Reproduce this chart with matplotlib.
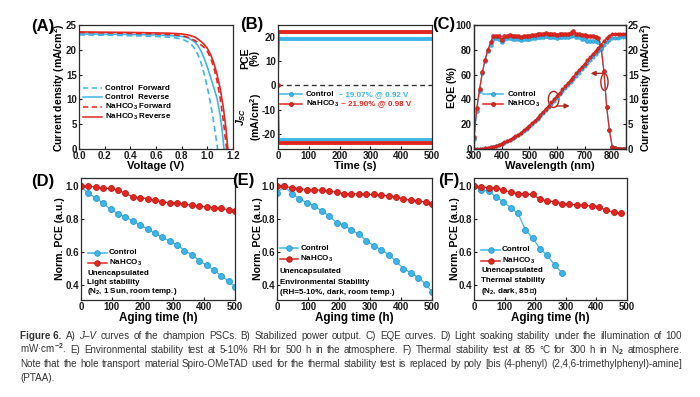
import numpy as np
import matplotlib
matplotlib.use('Agg')
import matplotlib.pyplot as plt
from matplotlib.lines import Line2D
from matplotlib.patches import Ellipse

plt.rcParams['font.family'] = ['Liberation Sans', 'DejaVu Sans']
plt.rcParams['font.weight'] = 'bold'
plt.rcParams['axes.unicode_minus'] = False
plt.rcParams['mathtext.fontset'] = 'custom'
plt.rcParams['mathtext.rm'] = 'Liberation Sans'
plt.rcParams['mathtext.it'] = 'Liberation Sans:italic'
plt.rcParams['mathtext.bf'] = 'Liberation Sans:bold'
plt.rcParams['mathtext.bfit'] = 'Liberation Sans:italic:bold'
plt.rcParams['mathtext.default'] = 'bf'

BLUE = '#3db5e6'
BLUE_EDGE = '#2a98cf'
RED = '#e2261f'
RED_EDGE = '#b81c16'
DARKRED = '#b3261f'
AX = '#2b2b2b'

# (A) J-V curves
v_ctrl_fwd = [0, 0.2, 0.4, 0.6, 0.7, 0.75, 0.8, 0.85, 0.875, 0.9, 0.925, 0.95, 0.975, 1.0, 1.02, 1.04, 1.06, 1.08]
j_ctrl_fwd = [23.0, 22.95, 22.85, 22.7, 22.55, 22.4, 22.2, 21.6, 21.1, 20.3, 19.1, 17.5, 15.2, 12.5, 9.8, 7.0, 3.6, 0.0]
v_ctrl_rev = [0, 0.2, 0.4, 0.6, 0.7, 0.8, 0.85, 0.9, 0.925, 0.95, 0.975, 1.0, 1.025, 1.05, 1.075, 1.1, 1.115, 1.13]
j_ctrl_rev = [23.2, 23.15, 23.1, 23.0, 22.9, 22.7, 22.4, 21.6, 20.9, 19.8, 18.3, 16.5, 14.5, 12.4, 10.3, 6.8, 3.8, 0.0]
v_na_fwd = [0, 0.2, 0.4, 0.6, 0.7, 0.8, 0.85, 0.9, 0.925, 0.95, 0.975, 1.0, 1.025, 1.05, 1.075, 1.1, 1.125, 1.15]
j_na_fwd = [23.5, 23.4, 23.3, 23.2, 23.1, 22.9, 22.5, 21.9, 21.5, 21.0, 20.5, 19.7, 18.4, 16.5, 13.8, 10.2, 5.6, 0.0]
v_na_rev = [0, 0.2, 0.4, 0.6, 0.7, 0.8, 0.85, 0.9, 0.925, 0.95, 0.975, 1.0, 1.025, 1.05, 1.075, 1.1, 1.125, 1.145, 1.16]
j_na_rev = [23.6, 23.55, 23.5, 23.4, 23.35, 23.2, 23.0, 22.6, 22.2, 21.7, 21.1, 20.3, 19.1, 17.4, 15.1, 12.2, 8.3, 4.2, 0.0]

# (B) stabilized output
time_b = [0, 3, 500]
pce_ctrl = [0, 19.07, 19.07]
jsc_ctrl = [0, -22.4, -22.4]
pce_na = [0, 21.90, 21.90]
jsc_na = [0, -23.8, -23.8]

# (C) EQE and integrated current
wl = list(range(300, 860, 10))
eqe_na = [10, 33, 48, 62, 72, 80, 86, 91, 91.5, 91,
          88, 91, 91.5, 92, 91.5, 91, 91.5, 90.5, 91, 91.5,
          91.5, 92, 92, 92.5, 93, 93, 93.5, 93, 92.5, 92.5,
          92, 92.5, 92.5, 93, 93, 93.5, 95, 93, 92.5, 92,
          92, 91.5, 91, 91.5, 90.5, 89.5, 82, 63, 34, 15,
          2, 0.5, 0.3, 0.2, 0.2, 0.2]
eqe_ctrl = [8, 31, 47, 61, 71, 79, 84, 89, 89.5, 89,
            86, 89, 89.5, 89.5, 89, 88.5, 88.5, 88, 88.5, 89,
            89, 89.5, 89.5, 90, 90.5, 90.5, 91, 90.5, 90, 90,
            89.5, 90, 90, 90, 90.5, 91, 92, 90.5, 90, 89,
            88.5, 87.5, 87, 87.5, 87, 86.5, 81, 62, 34, 15,
            2, 0.5, 0.3, 0.2, 0.2, 0.2]
jint_na = [0, 0.01, 0.03, 0.07, 0.13, 0.22, 0.34, 0.5, 0.68, 0.88,
           1.1, 1.35, 1.62, 1.91, 2.22, 2.55, 2.9, 3.3, 3.74, 4.2,
           4.68, 5.2, 5.74, 6.3, 6.9, 7.5, 8.13, 8.76, 9.4, 10.05,
           10.7, 11.35, 12.0, 12.65, 13.3, 13.95, 14.6, 15.25, 15.9, 16.55,
           17.2, 17.85, 18.5, 19.15, 19.8, 20.45, 21.05, 21.7, 22.3, 22.8,
           23.1, 23.2, 23.24, 23.26, 23.27, 23.28]
jint_ctrl = [0, 0.01, 0.03, 0.07, 0.13, 0.21, 0.33, 0.49, 0.66, 0.86,
             1.07, 1.31, 1.57, 1.86, 2.16, 2.48, 2.82, 3.21, 3.63, 4.08,
             4.54, 5.04, 5.57, 6.11, 6.69, 7.27, 7.88, 8.49, 9.11, 9.74,
             10.37, 11.0, 11.63, 12.26, 12.89, 13.52, 14.16, 14.79, 15.42, 16.04,
             16.66, 17.28, 17.9, 18.52, 19.14, 19.76, 20.34, 20.97, 21.55, 22.03,
             22.32, 22.42, 22.46, 22.48, 22.49, 22.5]

# (D)-(F) stability
time_de = [0, 24, 48, 72, 96, 120, 144, 168, 192, 216, 240, 264, 288, 312, 336, 360, 384, 408, 432, 456, 480, 500]
ctrl_d = [1.0, 0.956, 0.93, 0.896, 0.86, 0.833, 0.815, 0.79, 0.765, 0.74, 0.715, 0.69, 0.667, 0.645, 0.61, 0.585, 0.548, 0.52, 0.49, 0.456, 0.424, 0.39]
na_d = [1.0, 1.0, 0.995, 0.988, 0.987, 0.975, 0.958, 0.935, 0.93, 0.925, 0.915, 0.905, 0.9, 0.9, 0.89, 0.885, 0.878, 0.876, 0.87, 0.866, 0.856, 0.848]
ctrl_e = [0.96, 1.0, 0.955, 0.925, 0.9, 0.88, 0.85, 0.82, 0.78, 0.765, 0.735, 0.71, 0.67, 0.64, 0.615, 0.585, 0.545, 0.5, 0.475, 0.445, 0.405, 0.36]
na_e = [1.0, 1.0, 0.99, 0.985, 0.98, 0.978, 0.975, 0.97, 0.965, 0.955, 0.955, 0.953, 0.95, 0.95, 0.946, 0.942, 0.935, 0.925, 0.915, 0.91, 0.905, 0.89]
time_f_ctrl = [0, 24, 48, 72, 96, 120, 144, 168, 192, 216, 240, 264, 288]
ctrl_f = [1.0, 0.98, 0.97, 0.935, 0.905, 0.87, 0.835, 0.735, 0.685, 0.62, 0.58, 0.52, 0.475]
time_f_na = [0, 24, 48, 72, 96, 120, 144, 168, 192, 216, 240, 264, 288, 312, 336, 360, 384, 408, 432, 456, 480]
na_f = [1.0, 0.998, 0.99, 0.99, 0.978, 0.963, 0.955, 0.953, 0.95, 0.92, 0.913, 0.905, 0.893, 0.89, 0.888, 0.885, 0.88, 0.877, 0.853, 0.843, 0.837]

W, H = 700, 397
fig = plt.figure(figsize=(W / 100, H / 100), dpi=100)


def px(x, y):
    return x / W, 1 - y / H


def add_ax(l, t, r, b):
    ax = fig.add_axes([l / W, 1 - b / H, (r - l) / W, (b - t) / H])
    for s in ax.spines.values():
        s.set_linewidth(0.9)
        s.set_color(AX)
    ax.tick_params(direction='in', length=2.5, width=0.8, labelsize=7, pad=1.5, colors='#1a1a1a')
    return ax


def leg_row(ax, x0, x1, y, color, label, ls='-', marker=None, mfc=None, mec=None, ms=3.5, fs=5.8, gap=0.025):
    ln = Line2D([x0, x1], [y, y], transform=ax.transAxes, color=color, lw=1.1, clip_on=False)
    if ls == '--':
        ln.set_dashes((3.5, 2.2))
    ax.add_line(ln)
    if marker:
        ax.add_line(Line2D([(x0 + x1) / 2], [y], transform=ax.transAxes, marker=marker, ms=ms,
                           mfc=mfc, mec=mec, mew=0.6, ls='none', clip_on=False))
    return ax.text(x1 + gap, y, label, transform=ax.transAxes, va='center', fontsize=fs)


def panel_label(x, y, s):
    fig.text(*px(x, y), s, fontsize=12, ha='center', va='center')


def label(x, y, s, rot=0, fs=8):
    fig.text(*px(x, y), s, fontsize=fs, ha='center', va='center', rotation=rot, linespacing=1.0)


NA = 'NaHCO$_3$'

# ---- (A)
ax = add_ax(79, 25, 233, 149)
ax.plot(v_ctrl_fwd, j_ctrl_fwd, color=BLUE, lw=1.2, dashes=(3.5, 2.2))
ax.plot(v_ctrl_rev, j_ctrl_rev, color=BLUE, lw=1.2)
ax.plot(v_na_fwd, j_na_fwd, color=RED, lw=1.2, dashes=(3.5, 2.2))
ax.plot(v_na_rev, j_na_rev, color=RED, lw=1.2)
ax.set_xlim(0, 1.2)
ax.set_ylim(0, 25)
ax.set_xticks([0, 0.2, 0.4, 0.6, 0.8, 1.0, 1.2])
ax.set_xticklabels(['0.0', '0.2', '0.4', '0.6', '0.8', '1.0', '1.2'])
ax.set_yticks([0, 5, 10, 15, 20, 25])
leg_row(ax, 0.028, 0.147, 0.49, BLUE, 'Control  Forward', ls='--')
leg_row(ax, 0.028, 0.147, 0.417, BLUE, 'Control  Reverse')
leg_row(ax, 0.028, 0.147, 0.341, RED, NA + ' Forward', ls='--')
leg_row(ax, 0.028, 0.147, 0.256, RED, NA + ' Reverse')
panel_label(43, 27, '(A)')
label(59, 88, 'Current density (mA/cm$^2$)', rot=90, fs=7.6)
label(156, 166, 'Voltage (V)')

# ---- (B)
ax = add_ax(278, 25, 432, 149)
ax.axhline(0, color='#333333', lw=1, dashes=(3.5, 2.5))
ax.plot(time_b, pce_ctrl, color=BLUE, lw=1)
ax.plot(time_b, jsc_ctrl, color=BLUE, lw=1)
ax.plot(time_b[1:], pce_ctrl[1:], color=BLUE, lw=2.8)
ax.plot(time_b[1:], jsc_ctrl[1:], color=BLUE, lw=2.8)
ax.plot(time_b, pce_na, color=RED, lw=1)
ax.plot(time_b, jsc_na, color=RED, lw=1)
ax.plot(time_b[1:], pce_na[1:], color=RED, lw=2.8)
ax.plot(time_b[1:], jsc_na[1:], color=RED, lw=2.8)
ax.plot([time_b[0]], [pce_na[0]], 'o', ms=2.5, color=RED)
ax.set_xlim(0, 500)
ax.set_ylim(-26.3, 25)
ax.set_xticks([0, 100, 200, 300, 400, 500])
ax.set_yticks([-20, -10, 0, 10, 20])
t1 = leg_row(ax, 0.013, 0.156, 0.441, BLUE, 'Control', marker='o', mfc=BLUE, mec=BLUE_EDGE, ms=2.8)
ax.annotate('  ~ 19.07% @ 0.92 V', xy=(1, 0.5), xycoords=t1, va='center', fontsize=5.8, color=BLUE)
t2 = leg_row(ax, 0.013, 0.156, 0.363, RED, NA, marker='o', mfc=RED, mec=RED_EDGE, ms=2.8)
ax.annotate(' ~ 21.90% @ 0.98 V', xy=(1, 0.5), xycoords=t2, va='center', fontsize=5.8, color=RED)
panel_label(252, 25, '(B)')
label(250, 58, 'PCE\n(%)', rot=90, fs=7.6)
label(249, 117, '$\\mathbfit{J}_{\\mathbfit{SC}}$\n(mA/cm$^2$)', rot=90, fs=7.6)
label(355, 166, 'Time (s)')

# ---- (C)
ax = add_ax(474, 25, 626, 149)
ax2 = ax.twinx()
for s in ax2.spines.values():
    s.set_linewidth(0.9)
    s.set_color(AX)
ax2.tick_params(direction='in', length=2.5, width=0.8, labelsize=7, pad=1.5, colors='#1a1a1a')
ax.plot(wl, eqe_ctrl, color=BLUE, lw=0.9, marker='o', ms=2.8, mfc=BLUE, mec=BLUE_EDGE, mew=0.4)
ax.plot(wl, eqe_na, color=RED, lw=0.9, marker='o', ms=2.8, mfc=RED, mec=RED_EDGE, mew=0.4)
ax2.plot(wl, jint_ctrl, color=BLUE, lw=0.9, marker='o', ms=2.4, mfc=BLUE, mec=BLUE_EDGE, mew=0.4)
ax2.plot(wl, jint_na, color=RED, lw=0.9, marker='o', ms=2.4, mfc=RED, mec=RED_EDGE, mew=0.4)
ax.set_xlim(300, 850)
ax.set_ylim(0, 100)
ax2.set_ylim(0, 25)
ax.set_xticks([300, 400, 500, 600, 700, 800])
ax.set_yticks([0, 20, 40, 60, 80, 100])
ax2.set_yticks([0, 5, 10, 15, 20, 25])
ax.add_patch(Ellipse((588, 40), 38, 13, fill=False, ec=DARKRED, lw=1))
ax.annotate('', xy=(646, 34.7), xytext=(598, 34.7),
            arrowprops=dict(arrowstyle='-|>', color=DARKRED, lw=1, mutation_scale=7, shrinkA=0, shrinkB=0))
ax.add_patch(Ellipse((772, 54), 26, 13.5, fill=False, ec=DARKRED, lw=1))
ax.annotate('', xy=(722, 61), xytext=(768, 61),
            arrowprops=dict(arrowstyle='-|>', color=DARKRED, lw=1, mutation_scale=7, shrinkA=0, shrinkB=0))
leg_row(ax, 0.061, 0.193, 0.441, BLUE, 'Control', marker='o', mfc=BLUE, mec=BLUE_EDGE, ms=2.8)
leg_row(ax, 0.061, 0.193, 0.36, RED, NA, marker='o', mfc=RED, mec=RED_EDGE, ms=2.8)
panel_label(444, 25, '(C)')
label(452, 87, 'EQE (%)', rot=90, fs=7.6)
label(646, 88, 'Current density (mA/cm$^2$)', rot=90, fs=7.6)
label(550, 166, 'Wavelength (nm)')


# ---- (D)-(F)
def stab_panel(l, r, t_ctrl, y_ctrl, t_na, y_na, lg, notes):
    ax = add_ax(l, 178, r, 300)
    ax.plot(t_ctrl, y_ctrl, color=BLUE, lw=0.9, marker='o', ms=4.3, mfc=BLUE, mec=BLUE_EDGE, mew=0.6)
    ax.plot(t_na, y_na, color=RED, lw=0.9, marker='o', ms=4.3, mfc=RED, mec=RED_EDGE, mew=0.6)
    ax.set_xlim(0, 500)
    ax.set_ylim(0.31, 1.05)
    ax.set_xticks([0, 100, 200, 300, 400, 500])
    ax.set_yticks([0.4, 0.6, 0.8, 1.0])
    x0, x1, tx, ys = lg
    leg_row(ax, x0, x1, ys[0], BLUE, 'Control', marker='o', mfc=BLUE, mec=BLUE_EDGE, ms=4.0, gap=0.012)
    leg_row(ax, x0, x1, ys[1], RED, NA, marker='o', mfc=RED, mec=RED_EDGE, ms=4.0, gap=0.012)
    for yy, s in zip(ys[2:], notes):
        ax.text(tx, yy, s, transform=ax.transAxes, va='center', fontsize=5.8)
    return ax


stab_panel(81, 235, time_de, ctrl_d, time_de, na_d,
           (0.045, 0.169, 0.039, [0.388, 0.306, 0.221, 0.141, 0.066]),
           ['Unencapsulated', 'Light stability', '(N$_2$, 1 Sun, room temp.)'])
panel_label(43, 182, '(D)')
label(60, 239, 'Norm. PCE (a.u.)', rot=90, fs=7.6)
label(158, 318, 'Aging time (h)', fs=8.4)

stab_panel(277, 432, time_de, ctrl_e, time_de, na_e,
           (0.019, 0.138, 0.019, [0.424, 0.334, 0.232, 0.145, 0.063]),
           ['Unencapsulated', 'Environmental Stability', '(RH=5-10%, dark, room temp.)'])
panel_label(243, 180, '(E)')
label(258, 239, 'Norm. PCE (a.u.)', rot=90, fs=7.6)
label(354, 318, 'Aging time (h)', fs=8.4)

stab_panel(474, 627, time_f_ctrl, ctrl_f, time_f_na, na_f,
           (0.046, 0.17, 0.046, [0.41, 0.322, 0.238, 0.156, 0.068]),
           ['Unencapsulated', 'Thermal stability', '(N$_2$, dark, 85 \u2103)'])
panel_label(449, 180, '(F)')
label(455, 239, 'Norm. PCE (a.u.)', rot=90, fs=7.6)
label(550, 318, 'Aging time (h)', fs=8.4)

# ---- caption, justified line by line
caption = [
    [('Figure 6.', 'bold', 'normal'), 'A)', ('J\u2013V', 'normal', 'italic'), 'curves', 'of', 'the', 'champion',
     'PSCs.', 'B)', 'Stabilized', 'power', 'output.', 'C)', 'EQE', 'curves.', 'D)', 'Light', 'soaking',
     'stability', 'under', 'the', 'illumination', 'of', '100'],
    ['mW\u00b7cm$^{\\mathrm{-2}}$.', 'E)', 'Environmental', 'stability', 'test', 'at', '5-10%', 'RH', 'for', '500',
     'h', 'in', 'the', 'atmosphere.', 'F)', 'Thermal', 'stability', 'test', 'at', '85', '\u00b0C', 'for', '300',
     'h', 'in', 'N$_{\\mathrm{2}}$', 'atmosphere.'],
    ['Note', 'that', 'the', 'hole', 'transport', 'material', 'Spiro-OMeTAD', 'used', 'for', 'the', 'thermal',
     'stability', 'test', 'is', 'replaced', 'by', 'poly', '[bis', '(4-phenyl)', '(2,4,6-trimethylphenyl)-amine]'],
    ['(PTAA).'],
]
cap_left, cap_right = 20.5, 682
baselines = [339, 353, 367, 381]
renderer = fig.canvas.get_renderer()
for i, words in enumerate(caption):
    texts = []
    for w in words:
        if isinstance(w, tuple):
            s, wt, st = w
        else:
            s, wt, st = w, 'normal', 'normal'
        texts.append(fig.text(0, 1 - baselines[i] / H, s, fontsize=7.1, fontweight=wt, fontstyle=st,
                              color='#333333', va='baseline', ha='left'))
    widths = [t.get_window_extent(renderer).width for t in texts]
    if i < 3:
        gap = (cap_right - cap_left - sum(widths)) / (len(texts) - 1)
        gap = max(gap, 1.5)
    else:
        gap = 3
    x = cap_left
    for t, w in zip(texts, widths):
        t.set_x(x / W)
        x += w + gap

fig.savefig('out.png', dpi=100)
